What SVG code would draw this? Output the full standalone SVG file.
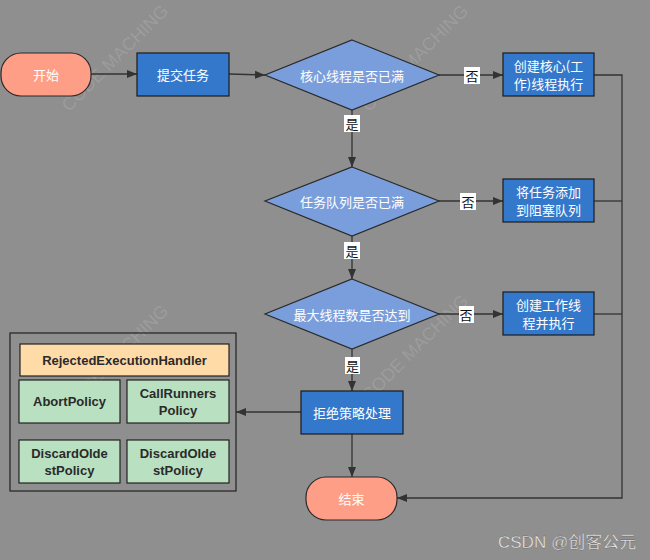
<svg xmlns="http://www.w3.org/2000/svg" width="650" height="560" viewBox="0 0 650 560">
<style>
.bg{fill:#8f8f8f}
.term{fill:#ff9e86;stroke:#2a2a2a;stroke-width:1.2}
.proc{fill:#3478cc;stroke:#1c1c1c;stroke-width:1.2}
.dec{fill:#7a9edb;stroke:#2a2a2a;stroke-width:1.2}
.t{font-family:"Noto Sans CJK SC","Liberation Sans",sans-serif;font-size:13px;fill:#ffffff;text-anchor:middle;dominant-baseline:central}
.lblbg{fill:#ffffff}
.lbl{font-family:"Noto Sans CJK SC",sans-serif;font-size:13px;fill:#111;text-anchor:middle;dominant-baseline:central}
.cont{fill:none;stroke:#222;stroke-width:1.2}
.hdr{fill:#ffdba8;stroke:#222;stroke-width:1.2}
.pol{fill:#b9e0c1;stroke:#222;stroke-width:1.2}
.pt{font-family:"Liberation Sans",Arial,sans-serif;font-weight:bold;font-size:13px;fill:#2a2a2a;text-anchor:middle;dominant-baseline:central}
.edge{fill:none;stroke:#333;stroke-width:1.3}
.wm{font-family:"Liberation Sans",Arial,sans-serif;font-size:18px;fill:#ffffff;fill-opacity:0.13;text-anchor:middle;dominant-baseline:central}
</style>
<defs>
<marker id="arr" viewBox="0 0 10 10" refX="10" refY="5" markerWidth="10" markerHeight="10" markerUnits="userSpaceOnUse" orient="auto">
<path d="M0,1 L10,5 L0,9 Z" fill="#333"/>
</marker>
</defs>
<rect class="bg" x="0" y="0" width="650" height="560"/>
<g id="watermarks">
<text class="wm" transform="translate(115,58) rotate(-45)">CODE MACHING</text>
<text class="wm" transform="translate(415,58) rotate(-45)">CODE MACHING</text>
<text class="wm" transform="translate(115,358) rotate(-45)">CODE MACHING</text>
<text class="wm" transform="translate(415,348) rotate(-45)">CODE MACHING</text>
</g>
<g id="connectors">
<path class="edge" d="M91,74 L137,74" marker-end="url(#arr)"/>
<path class="edge" d="M229,74 L265,75" marker-end="url(#arr)"/>
<path class="edge" d="M439,75 L503,75" marker-end="url(#arr)"/>
<path class="edge" d="M352,110 L352,167" marker-end="url(#arr)"/>
<path class="edge" d="M439,201 L503,201" marker-end="url(#arr)"/>
<path class="edge" d="M352,236 L352,279" marker-end="url(#arr)"/>
<path class="edge" d="M439,314 L503,314" marker-end="url(#arr)"/>
<path class="edge" d="M352,349 L352,391" marker-end="url(#arr)"/>
<path class="edge" d="M352,434 L352,477" marker-end="url(#arr)"/>
<path class="edge" d="M301,412 L236,412" marker-end="url(#arr)"/>
<path class="edge" d="M594,75 L622,75 L622,498 L397,498" marker-end="url(#arr)"/>
<path class="edge" d="M594,201 L622,201"/>
<path class="edge" d="M594,314 L622,314"/>
<rect class="lblbg" x="464" y="67" width="16" height="17"/>
<text class="lbl" x="472" y="75.5">否</text>
<rect class="lblbg" x="460" y="193" width="16" height="17"/>
<text class="lbl" x="468" y="201.5">否</text>
<rect class="lblbg" x="459" y="306" width="15" height="17"/>
<text class="lbl" x="466" y="314.5">否</text>
<rect class="lblbg" x="344" y="115" width="16" height="17"/>
<text class="lbl" x="352" y="123.5">是</text>
<rect class="lblbg" x="344" y="242" width="16" height="17"/>
<text class="lbl" x="352" y="250.5">是</text>
<rect class="lblbg" x="345" y="357" width="15" height="17"/>
<text class="lbl" x="352.5" y="365.5">是</text>
</g>
<g id="start">
<rect class="term" x="1" y="53" width="90" height="43" rx="20" ry="20"/>
<text class="t" x="46" y="74.5">开始</text>
</g>
<g id="submit">
<rect class="proc" x="137" y="53" width="92" height="43"/>
<text class="t" x="183" y="74.5">提交任务</text>
</g>
<g id="d1">
<polygon class="dec" points="352,40 439,75 352,110 265,75"/>
<text class="t" x="352" y="75">核心线程是否已满</text>
</g>
<g id="box1">
<rect class="proc" x="503" y="53" width="91" height="43"/>
<text class="t" x="548.5" y="65">创建核心(工</text>
<text class="t" x="548.5" y="83">作)线程执行</text>
</g>
<g id="d2">
<polygon class="dec" points="352,167 439,201 352,236 265,201"/>
<text class="t" x="352" y="201">任务队列是否已满</text>
</g>
<g id="box2">
<rect class="proc" x="503" y="179" width="91" height="43"/>
<text class="t" x="548.5" y="191">将任务添加</text>
<text class="t" x="548.5" y="209">到阻塞队列</text>
</g>
<g id="d3">
<polygon class="dec" points="352,279 439,314 352,349 265,314"/>
<text class="t" x="352" y="314">最大线程数是否达到</text>
</g>
<g id="box3">
<rect class="proc" x="503" y="292" width="91" height="43"/>
<text class="t" x="548.5" y="304">创建工作线</text>
<text class="t" x="548.5" y="322">程并执行</text>
</g>
<g id="reject">
<rect class="proc" x="301" y="391" width="102" height="43"/>
<text class="t" x="352" y="412.5">拒绝策略处理</text>
</g>
<g id="end">
<rect class="term" x="306" y="477" width="91" height="43" rx="20" ry="20"/>
<text class="t" x="351.5" y="498.5">结束</text>
</g>
<g id="policies">
<rect class="cont" x="10" y="333" width="226" height="158"/>
<rect class="hdr" x="20" y="344" width="209" height="32"/>
<text class="pt" x="124.5" y="360">RejectedExecutionHandler</text>
<rect class="pol" x="19" y="380" width="101" height="43"/>
<text class="pt" x="69.5" y="401.5">AbortPolicy</text>
<rect class="pol" x="127" y="380" width="102" height="43"/>
<text class="pt" x="178" y="393">CallRunners</text>
<text class="pt" x="178" y="410">Policy</text>
<rect class="pol" x="19" y="440" width="101" height="43"/>
<text class="pt" x="69.5" y="453">DiscardOlde</text>
<text class="pt" x="69.5" y="470">stPolicy</text>
<rect class="pol" x="127" y="440" width="102" height="43"/>
<text class="pt" x="178" y="453">DiscardOlde</text>
<text class="pt" x="178" y="470">stPolicy</text>
</g>
<text x="498" y="548" font-family="'Liberation Sans','Noto Sans CJK SC',sans-serif" font-size="17" fill="#ededed" stroke="#555" stroke-width="0.3">CSDN @创客公元</text>
</svg>
